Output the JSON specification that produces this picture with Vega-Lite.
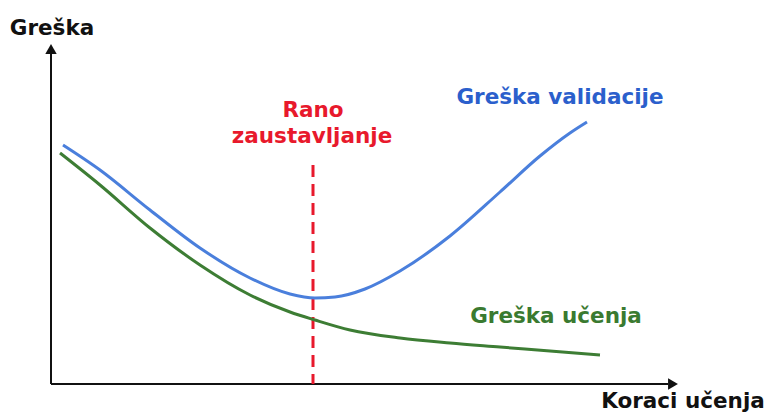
{
  "$schema": "https://vega.github.io/schema/vega-lite/v6.json",
  "width": 767,
  "height": 414,
  "autosize": {"type": "none"},
  "padding": 0,
  "background": "white",
  "config": {"view": {"stroke": null}},
  "resolve": {"scale": {"color": "independent"}},
  "datasets": {
    "curves": [
      {"serija": "Greška validacije", "korak": 63, "greska": 269},
      {"serija": "Greška validacije", "korak": 100, "greska": 244},
      {"serija": "Greška validacije", "korak": 150, "greska": 204},
      {"serija": "Greška validacije", "korak": 200, "greska": 166},
      {"serija": "Greška validacije", "korak": 250, "greska": 136},
      {"serija": "Greška validacije", "korak": 290, "greska": 120},
      {"serija": "Greška validacije", "korak": 315, "greska": 116},
      {"serija": "Greška validacije", "korak": 335, "greska": 117},
      {"serija": "Greška validacije", "korak": 365, "greska": 125},
      {"serija": "Greška validacije", "korak": 400, "greska": 143},
      {"serija": "Greška validacije", "korak": 450, "greska": 178},
      {"serija": "Greška validacije", "korak": 500, "greska": 222},
      {"serija": "Greška validacije", "korak": 540, "greska": 258},
      {"serija": "Greška validacije", "korak": 570, "greska": 281},
      {"serija": "Greška validacije", "korak": 587, "greska": 292},
      {"serija": "Greška učenja", "korak": 60, "greska": 261},
      {"serija": "Greška učenja", "korak": 100, "greska": 229},
      {"serija": "Greška učenja", "korak": 150, "greska": 186},
      {"serija": "Greška učenja", "korak": 200, "greska": 149},
      {"serija": "Greška učenja", "korak": 250, "greska": 119},
      {"serija": "Greška učenja", "korak": 290, "greska": 102},
      {"serija": "Greška učenja", "korak": 315, "greska": 94},
      {"serija": "Greška učenja", "korak": 350, "greska": 84},
      {"serija": "Greška učenja", "korak": 400, "greska": 76},
      {"serija": "Greška učenja", "korak": 450, "greska": 71},
      {"serija": "Greška učenja", "korak": 500, "greska": 67},
      {"serija": "Greška učenja", "korak": 550, "greska": 63},
      {"serija": "Greška učenja", "korak": 600, "greska": 59}
    ],
    "stop": [
      {"korak": 313, "greska": 249, "greska2": 30}
    ],
    "axes": [
      {"os": "x", "x1": 51, "y1": 30, "x2": 668, "y2": 30},
      {"os": "y", "x1": 51, "y1": 30, "x2": 51, "y2": 360}
    ],
    "arrows": [
      {"os": "x", "x": 673, "y": 30, "shape": "triangle-right"},
      {"os": "y", "x": 51, "y": 365, "shape": "triangle-up"}
    ],
    "labels": [
      {"tekst": "Greška", "x": 52, "y": 379, "boja": "black"},
      {"tekst": "Koraci učenja", "x": 683, "y": 6, "boja": "black"},
      {"tekst": "Rano", "x": 313, "y": 297, "boja": "red"},
      {"tekst": "zaustavljanje", "x": 312, "y": 271, "boja": "red"},
      {"tekst": "Greška validacije", "x": 560, "y": 310, "boja": "blue"},
      {"tekst": "Greška učenja", "x": 556, "y": 91, "boja": "green"}
    ]
  },
  "layer": [
    {
      "data": {"name": "axes"},
      "mark": {"type": "rule", "color": "#111111", "strokeWidth": 2},
      "encoding": {
        "x": {"field": "x1", "type": "quantitative", "scale": {"domain": [0, 767], "nice": false, "zero": false}, "axis": null},
        "y": {"field": "y1", "type": "quantitative", "scale": {"domain": [0, 414], "nice": false, "zero": false}, "axis": null},
        "x2": {"field": "x2"},
        "y2": {"field": "y2"}
      }
    },
    {
      "data": {"name": "arrows"},
      "mark": {"type": "point", "filled": true, "color": "#111111", "size": 130, "opacity": 1},
      "encoding": {
        "x": {"field": "x", "type": "quantitative"},
        "y": {"field": "y", "type": "quantitative"},
        "shape": {"field": "shape", "type": "nominal", "scale": null, "legend": null}
      }
    },
    {
      "data": {"name": "stop"},
      "mark": {"type": "rule", "color": "#e8192c", "strokeWidth": 3, "strokeDash": [12, 7]},
      "encoding": {
        "x": {"field": "korak", "type": "quantitative"},
        "y": {"field": "greska", "type": "quantitative"},
        "y2": {"field": "greska2"}
      }
    },
    {
      "data": {"name": "curves"},
      "mark": {"type": "line", "strokeWidth": 3, "interpolate": "monotone"},
      "encoding": {
        "x": {"field": "korak", "type": "quantitative"},
        "y": {"field": "greska", "type": "quantitative"},
        "detail": {"field": "serija"},
        "color": {"field": "serija", "type": "nominal", "scale": {"domain": ["Greška validacije", "Greška učenja"], "range": ["#4a7fdc", "#3d7d34"]}, "legend": null}
      }
    },
    {
      "data": {"name": "labels"},
      "mark": {"type": "text", "font": "DejaVu Sans", "fontWeight": "bold", "fontSize": 21.5, "baseline": "alphabetic", "align": "center"},
      "encoding": {
        "x": {"field": "x", "type": "quantitative"},
        "y": {"field": "y", "type": "quantitative"},
        "text": {"field": "tekst"},
        "color": {"field": "boja", "type": "nominal", "scale": {"domain": ["black", "red", "blue", "green"], "range": ["#111111", "#e8192c", "#2b5fcc", "#3a7a30"]}, "legend": null}
      }
    }
  ]
}
